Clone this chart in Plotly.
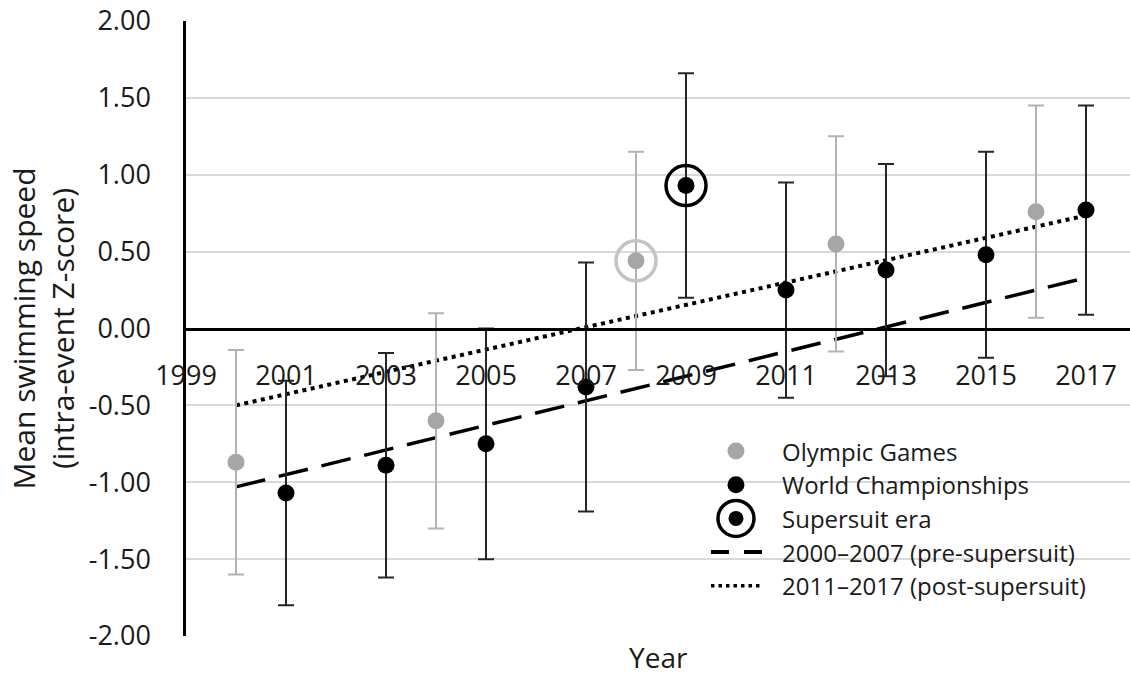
import plotly.graph_objects as go

# Olympic Games: mean intra-event Z-score and error half-width
og_years = [2000, 2004, 2008, 2012, 2016]
og_mean = [-0.87, -0.60, 0.44, 0.55, 0.76]
og_err = [0.73, 0.70, 0.71, 0.70, 0.69]

# World Championships
wc_years = [2001, 2003, 2005, 2007, 2009, 2011, 2013, 2015, 2017]
wc_mean = [-1.07, -0.89, -0.75, -0.38, 0.93, 0.25, 0.38, 0.48, 0.77]
wc_err = [0.73, 0.73, 0.75, 0.81, 0.73, 0.70, 0.69, 0.67, 0.68]

# Meets swum in the supersuit era
supersuit_years = [2008, 2009]

# Linear trends
pre_years = [2000, 2017]
pre_fit = [-1.03, 0.33]
post_years = [2000, 2017]
post_fit = [-0.50, 0.735]

# Axis ticks
x_tick_vals = [1999, 2001, 2003, 2005, 2007, 2009, 2011, 2013, 2015, 2017]
y_tick_vals = [2.0, 1.5, 1.0, 0.5, 0.0, -0.5, -1.0, -1.5, -2.0]
y_tick_text = ["2.00", "1.50", "1.00", "0.50", "0.00", "-0.50", "-1.00", "-1.50", "-2.00"]

legend_labels = [
    "Olympic Games",
    "World Championships",
    "Supersuit era",
    "2000\u20132007 (pre-supersuit)",
    "2011\u20132017 (post-supersuit)",
]

GREY = "#a6a6a6"
GREY_BAR = "#b3b3b3"
GREY_RING = "#c4c4c4"
BLACK = "#000000"
TEXT = "#1a1a1a"
FONT = "Open Sans"

fig = go.Figure()

# trend lines
fig.add_trace(go.Scatter(
    x=pre_years, y=pre_fit, mode="lines",
    line=dict(color=BLACK, width=3.5, dash="30px,14px"),
    hoverinfo="skip", showlegend=False,
))
fig.add_trace(go.Scatter(
    x=post_years, y=post_fit, mode="lines",
    line=dict(color=BLACK, width=4, dash="4px,4.5px"),
    hoverinfo="skip", showlegend=False,
))

# Olympic Games
fig.add_trace(go.Scatter(
    x=og_years, y=og_mean, mode="markers",
    marker=dict(color=GREY, size=17),
    error_y=dict(type="data", array=og_err, symmetric=True,
                 color=GREY_BAR, thickness=2, width=8),
    showlegend=False,
))

# World Championships
fig.add_trace(go.Scatter(
    x=wc_years, y=wc_mean, mode="markers",
    marker=dict(color=BLACK, size=17),
    error_y=dict(type="data", array=wc_err, symmetric=True,
                 color="#262626", thickness=2, width=8),
    showlegend=False,
))

# rings around the supersuit-era meets
ring_y, ring_col = [], []
for yr in supersuit_years:
    if yr in og_years:
        ring_y.append(og_mean[og_years.index(yr)])
        ring_col.append(GREY_RING)
    else:
        ring_y.append(wc_mean[wc_years.index(yr)])
        ring_col.append(BLACK)
fig.add_trace(go.Scatter(
    x=supersuit_years, y=ring_y, mode="markers",
    marker=dict(symbol="circle-open", size=40, color=ring_col,
                line=dict(width=3.5)),
    showlegend=False, hoverinfo="skip",
))

# hand-built key (paper coordinates)
key_x, text_x = 0.5826, 0.629
row_top, row_step = (636 - 451) / 615, 33.7 / 615
shapes, annotations = [], []
for i, label in enumerate(legend_labels):
    ry = row_top - i * row_step
    annotations.append(dict(
        x=text_x, y=ry, xref="paper", yref="paper", text=label,
        showarrow=False, xanchor="left", yanchor="middle",
        font=dict(family=FONT, size=24, color=TEXT),
    ))
    base = dict(xref="paper", yref="paper", xsizemode="pixel", ysizemode="pixel",
                xanchor=key_x, yanchor=ry)
    if i == 0:
        shapes.append(dict(type="circle", x0=-8.5, x1=8.5, y0=-8.5, y1=8.5,
                           fillcolor=GREY, line=dict(width=0), **base))
    elif i == 1:
        shapes.append(dict(type="circle", x0=-8.5, x1=8.5, y0=-8.5, y1=8.5,
                           fillcolor=BLACK, line=dict(width=0), **base))
    elif i == 2:
        shapes.append(dict(type="circle", x0=-18, x1=18, y0=-18, y1=18,
                           fillcolor="rgba(0,0,0,0)",
                           line=dict(color=BLACK, width=3.5), **base))
        shapes.append(dict(type="circle", x0=-7.5, x1=7.5, y0=-7.5, y1=7.5,
                           fillcolor=BLACK, line=dict(width=0), **base))
    elif i == 3:
        shapes.append(dict(type="line", x0=-25, x1=27, y0=0, y1=0,
                           line=dict(color=BLACK, width=4, dash="18px,15px"), **base))
    else:
        shapes.append(dict(type="line", x0=-25, x1=27, y0=0, y1=0,
                           line=dict(color=BLACK, width=3.5, dash="3.5px,4px"), **base))

annotations.append(dict(
    x=0.5, y=0.0, xref="paper", yref="paper", text="Year", showarrow=False,
    xanchor="center", yanchor="top", yshift=0,
    font=dict(family=FONT, size=28, color=TEXT),
))

fig.update_layout(
    width=1130, height=679,
    margin=dict(l=186, r=0, t=21, b=43),
    paper_bgcolor="white", plot_bgcolor="white",
    showlegend=False,
    shapes=shapes, annotations=annotations,
    font=dict(family=FONT, color=TEXT),
)

fig.update_xaxes(
    range=[1999, 2017.88], tickvals=x_tick_vals,
    anchor="free", position=0.5,
    showline=True, linecolor=BLACK, linewidth=2.5,
    showgrid=False, zeroline=False, ticks="",
    ticklabelstandoff=22,
    tickfont=dict(family=FONT, size=27, color=TEXT),
)
fig.update_yaxes(
    range=[-2, 2], tickvals=y_tick_vals, ticktext=y_tick_text,
    showline=True, linecolor=BLACK, linewidth=2.5,
    showgrid=True, gridcolor="#d9d9d9", gridwidth=2,
    zeroline=False, ticks="", ticklabelstandoff=27,
    tickfont=dict(family=FONT, size=27, color=TEXT),
    title=dict(text="Mean swimming speed<br>(intra-event Z-score)",
               font=dict(family=FONT, size=30, color=TEXT), standoff=6),
)

fig.write_html("out.html")
